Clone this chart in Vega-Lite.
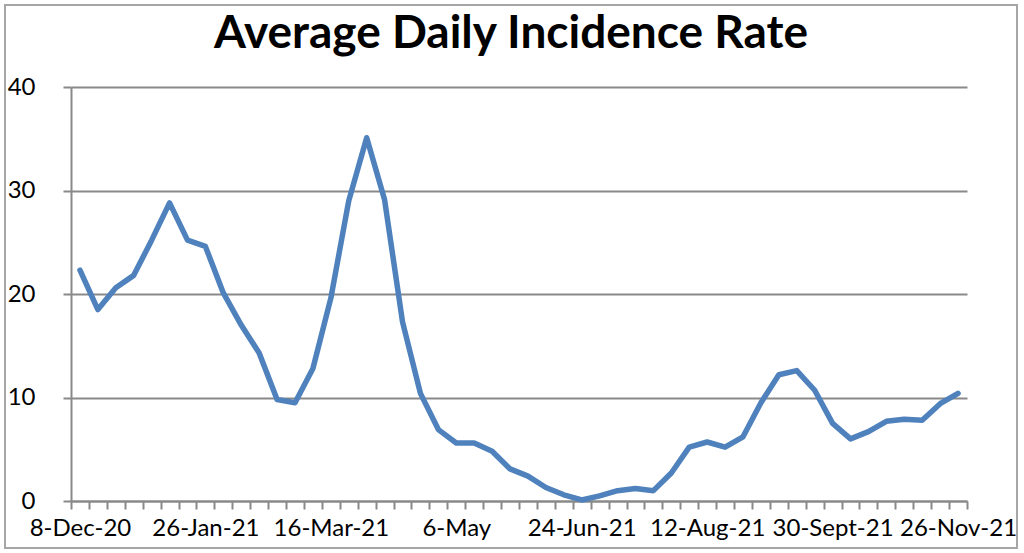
{
  "$schema": "https://vega.github.io/schema/vega-lite/v6.json",
  "autosize": {"type": "none"},
  "padding": {"left": 5, "top": 5, "right": 7, "bottom": 5},
  "width": 1012,
  "height": 543,
  "background": "white",
  "title": {
    "text": "Average Daily Incidence Rate",
    "font": "Lato",
    "fontSize": 46,
    "fontWeight": "bold",
    "color": "black",
    "anchor": "middle",
    "offset": -53
  },
  "data": {
    "values": [
      {"week": 0, "rate": 22.3}, {"week": 1, "rate": 18.5}, {"week": 2, "rate": 20.6},
      {"week": 3, "rate": 21.8}, {"week": 4, "rate": 25.2}, {"week": 5, "rate": 28.8},
      {"week": 6, "rate": 25.2}, {"week": 7, "rate": 24.6}, {"week": 8, "rate": 20.1},
      {"week": 9, "rate": 17.0}, {"week": 10, "rate": 14.3}, {"week": 11, "rate": 9.8},
      {"week": 12, "rate": 9.5}, {"week": 13, "rate": 12.8}, {"week": 14, "rate": 19.6},
      {"week": 15, "rate": 29.0}, {"week": 16, "rate": 35.1}, {"week": 17, "rate": 29.1},
      {"week": 18, "rate": 17.3}, {"week": 19, "rate": 10.4}, {"week": 20, "rate": 6.9},
      {"week": 21, "rate": 5.6}, {"week": 22, "rate": 5.6}, {"week": 23, "rate": 4.8},
      {"week": 24, "rate": 3.1}, {"week": 25, "rate": 2.4}, {"week": 26, "rate": 1.3},
      {"week": 27, "rate": 0.6}, {"week": 28, "rate": 0.1}, {"week": 29, "rate": 0.5},
      {"week": 30, "rate": 1.0}, {"week": 31, "rate": 1.2}, {"week": 32, "rate": 1.0},
      {"week": 33, "rate": 2.7}, {"week": 34, "rate": 5.2}, {"week": 35, "rate": 5.7},
      {"week": 36, "rate": 5.2}, {"week": 37, "rate": 6.2}, {"week": 38, "rate": 9.5},
      {"week": 39, "rate": 12.2}, {"week": 40, "rate": 12.6}, {"week": 41, "rate": 10.7},
      {"week": 42, "rate": 7.5}, {"week": 43, "rate": 6.0}, {"week": 44, "rate": 6.7},
      {"week": 45, "rate": 7.7}, {"week": 46, "rate": 7.9}, {"week": 47, "rate": 7.8},
      {"week": 48, "rate": 9.4}, {"week": 49, "rate": 10.4}
    ]
  },
  "mark": {"type": "line", "color": "#4F81BD", "strokeWidth": 5.5, "strokeJoin": "round", "strokeCap": "round", "clip": false},
  "encoding": {
    "x": {
      "field": "week",
      "type": "quantitative",
      "scale": {"domain": [-0.5, 49.5], "nice": false, "zero": false, "range": [66, 962]},
      "axis": {
        "title": null,
        "grid": false,
        "offset": -47,
        "values": [-0.5, 0.5, 1.5, 2.5, 3.5, 4.5, 5.5, 6.5, 7.5, 8.5, 9.5, 10.5, 11.5, 12.5, 13.5, 14.5, 15.5, 16.5, 17.5, 18.5, 19.5, 20.5, 21.5, 22.5, 23.5, 24.5, 25.5, 26.5, 27.5, 28.5, 29.5, 30.5, 31.5, 32.5, 33.5, 34.5, 35.5, 36.5, 37.5, 38.5, 39.5, 40.5, 41.5, 42.5, 43.5, 44.5, 45.5, 46.5, 47.5, 48.5, 49.5],
        "labelExpr": "datum.value == -0.5 ? '8-Dec-20' : datum.value == 6.5 ? '26-Jan-21' : datum.value == 13.5 ? '16-Mar-21' : datum.value == 20.5 ? '6-May' : datum.value == 27.5 ? '24-Jun-21' : datum.value == 34.5 ? '12-Aug-21' : datum.value == 41.5 ? '30-Sept-21' : datum.value == 48.5 ? '26-Nov-21' : ''",
        "labelOffset": 8.96,
        "labelOverlap": false,
        "labelBound": false,
        "labelFlush": false,
        "labelFont": "Lato",
        "labelFontSize": 24,
        "labelColor": "black",
        "labelPadding": 7,
        "domainColor": "#898989",
        "domainWidth": 2,
        "tickColor": "#898989",
        "tickWidth": 2,
        "tickSize": 8
      }
    },
    "y": {
      "field": "rate",
      "type": "quantitative",
      "scale": {"domain": [0, 40], "nice": false, "range": [496, 82]},
      "axis": {
        "title": null,
        "offset": -66,
        "values": [0, 10, 20, 30, 40],
        "grid": true,
        "gridColor": "#898989",
        "gridWidth": 2,
        "gridOpacity": 1,
        "labelFont": "Lato",
        "labelFontSize": 24,
        "labelColor": "black",
        "labelPadding": 28,
        "domainColor": "#898989",
        "domainWidth": 2,
        "tickColor": "#898989",
        "tickWidth": 2,
        "tickSize": 8
      }
    }
  },
  "config": {"view": {"stroke": "#A6A6A6", "strokeWidth": 2}}
}
